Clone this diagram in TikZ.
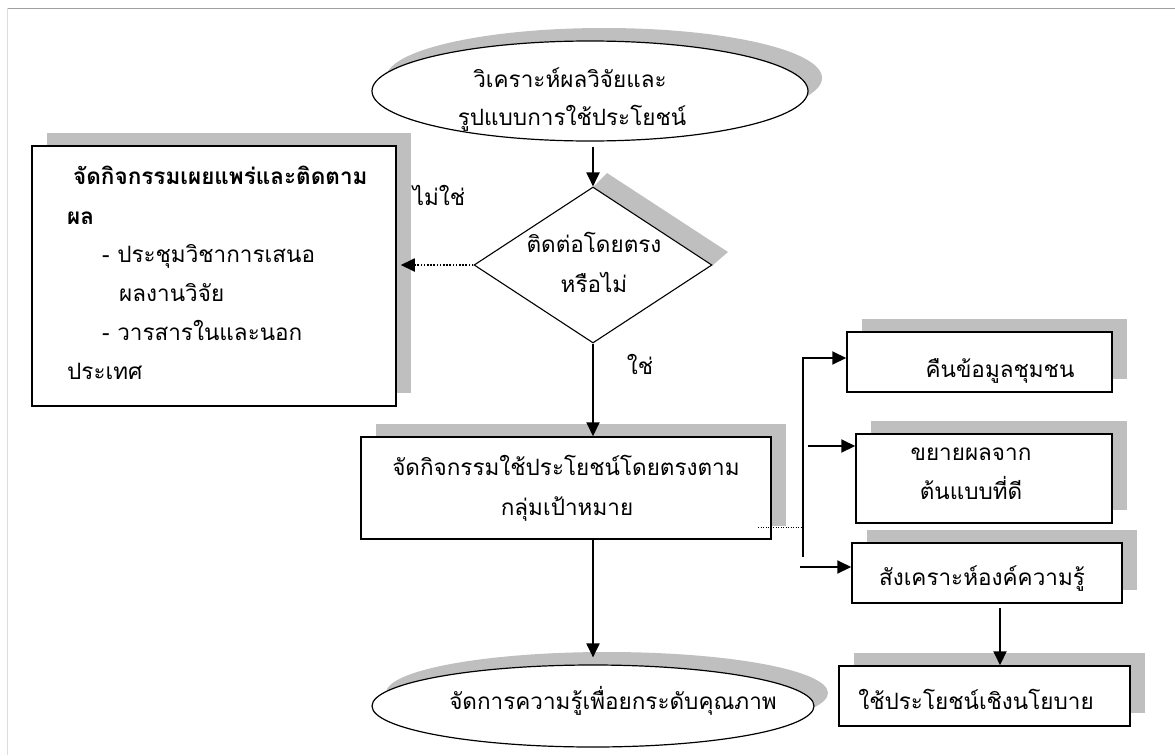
\documentclass[tikz,border=0pt]{standalone}
\usepackage{fontspec}
\newfontfamily\thai[Script=Thai]{Loma}
\usetikzlibrary{shapes.geometric,arrows.meta,shadows}
\definecolor{shadowgray}{RGB}{191,191,191}
\definecolor{frameline}{RGB}{160,160,160}
\definecolor{edgeline}{RGB}{221,221,221}
\tikzset{
  txt/.style={font=\thai\fontsize{22.5}{39}\selectfont, inner sep=0pt},
  gshadow/.style={drop shadow={shadow xshift=15pt, shadow yshift=13pt, fill=shadowgray, opacity=1}},
  boxshape/.style={draw, line width=1.5pt, fill=white, rectangle, inner sep=0pt, gshadow},
  ellshape/.style={draw, line width=1.2pt, fill=white, ellipse, inner sep=0pt,
    drop shadow={shadow xshift=14pt, shadow yshift=13pt, fill=shadowgray, opacity=1}},
  decshape/.style={draw, line width=1.1pt, fill=white, diamond, inner sep=0pt},
  arr/.style={line width=2pt, -{Triangle[length=14pt,width=13pt]}},
  dotarr/.style={line width=1.8pt, dash pattern=on 1.6pt off 1.6pt, -{Triangle[length=14pt,width=13pt]}},
  thindot/.style={line width=0.9pt, dash pattern=on 1pt off 1.5pt}
}
\begin{document}
\begin{tikzpicture}[x=1pt,y=-1pt]
\useasboundingbox (0,0) rectangle (1175,755);
\draw[frameline, line width=1pt] (7,8) -- (1175,8);
\draw[edgeline, line width=1pt] (7,8) -- (7,755);

% shapes
\node[ellshape, minimum width=436, minimum height=100] (top) at (590,91) {};
\node[boxshape, minimum width=364, minimum height=260] (left) at (214,276) {};
\fill[shadowgray] (593,187) -- (607,173) -- (728,252) -- (713,265) -- cycle;
\node[decshape, minimum width=238, minimum height=156] (dec) at (593,265) {};
\node[boxshape, minimum width=410, minimum height=102] (mid) at (566,488) {};
\node[boxshape, minimum width=265, minimum height=60] (b1) at (979.5,362) {};
\node[boxshape, minimum width=256, minimum height=89] (b2) at (984,478.5) {};
\node[boxshape, minimum width=270, minimum height=60] (b3) at (987,573) {};
\node[boxshape, minimum width=291, minimum height=60] (b4) at (984.5,696) {};
\node[ellshape, minimum width=442, minimum height=82] (bot) at (593,706) {};

% texts
\node[txt, anchor=base] (t1) at (570,87) {วิเคราะห์ผลวิจัยและ};
\node[txt, anchor=base] (t2) at (572,125) {รูปแบบการใช้ประโยชน์};
\node[txt, anchor=base west, font=\thai\bfseries\fontsize{22.5}{39}\selectfont] (l1) at (73,184) {จัดกิจกรรมเผยแพร่และติดตาม};
\node[txt, anchor=base west, font=\thai\bfseries\fontsize{22.5}{39}\selectfont] (l2) at (67,224) {ผล};
\node[txt, anchor=base west] (l3) at (102,262) {- ประชุมวิชาการเสนอ};
\node[txt, anchor=base west] (l4) at (119,301) {ผลงานวิจัย};
\node[txt, anchor=base west] (l5) at (102,340) {- วารสารในและนอก};
\node[txt, anchor=base west] (l6) at (67,379) {ประเทศ};
\node[txt, anchor=base] (d1) at (594,252) {ติดต่อโดยตรง};
\node[txt, anchor=base] (d2) at (594,292) {หรือไม่};
\node[txt, anchor=base] (no) at (439,205) {ไม่ใช่};
\node[txt, anchor=base] (yes) at (640,374) {ใช่};
\node[txt, anchor=base] (m1) at (566,475) {จัดกิจกรรมใช้ประโยชน์โดยตรงตาม};
\node[txt, anchor=base] (m2) at (567,515) {กลุ่มเป้าหมาย};
\node[txt, anchor=base] (bt1) at (1000,377) {คืนข้อมูลชุมชน};
\node[txt, anchor=base] (bt2a) at (971,460) {ขยายผลจาก};
\node[txt, anchor=base] (bt2b) at (971,499) {ต้นแบบที่ดี};
\node[txt, anchor=base] (bt3) at (982,585) {สังเคราะห์องค์ความรู้};
\node[txt, anchor=base] (bt4) at (976,709) {ใช้ประโยชน์เชิงนโยบาย};
\node[txt, anchor=base] (bot1) at (613,709) {จัดการความรู้เพื่อยกระดับคุณภาพ};

% connectors
\coordinate (dotA) at (758,527);
\coordinate (dotB) at (805,527);
\coordinate (vtop) at (803,358);
\coordinate (vbot) at (803,557);
\coordinate (a2) at (808,446);
\coordinate (a3) at (800,567);
\draw[arr] ([yshift=-5pt]top.south -| dec.north) -- (dec.north);
\draw[dotarr] (dec.west) -- ([xshift=4pt]dec.west -| left.east);
\draw[arr] (dec.south) -- (dec.south |- mid.north);
\draw[arr] (mid.south -| bot.north) -- ([yshift=7pt]bot.north);
\draw[thindot] (dotA) -- (dotB);
\draw[arr] (vbot) -- (vtop) -- (vtop -| b1.west);
\draw[arr] (a2) -- (a2 -| b2.west);
\draw[arr] (a3) -- (a3 -| b3.west);
\draw[arr] ([xshift=13pt,yshift=-4pt]b3.south) -- ([xshift=13pt]b3.south |- b4.north);
\end{tikzpicture}
\end{document}
